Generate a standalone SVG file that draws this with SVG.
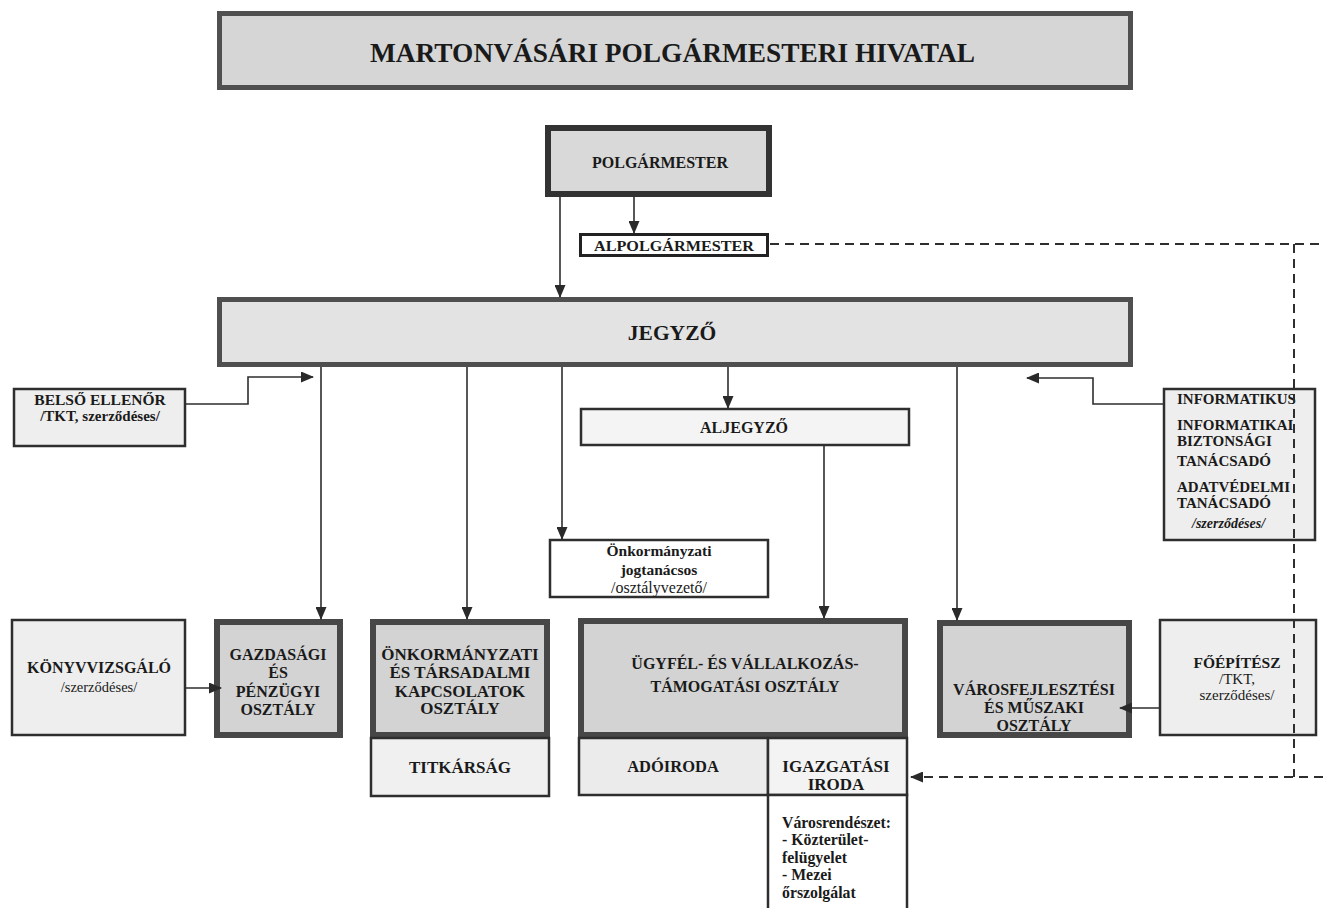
<svg xmlns="http://www.w3.org/2000/svg" width="1323" height="908" viewBox="0 0 1323 908">
<defs>
<marker id="ah" markerUnits="userSpaceOnUse" markerWidth="13" markerHeight="11" refX="12" refY="5.5" orient="auto">
<path d="M0,0 L13,5.5 L0,11 z" fill="#2a2a2a"/>
</marker>
<style>
text{font-family:"Liberation Serif","Times New Roman",serif;font-weight:bold;fill:#1a1a1a;text-anchor:middle}
.l{text-anchor:start}
.n{font-weight:normal}
.i{font-style:italic}
.thick{stroke:#474747;stroke-width:6}
.thin{stroke:#2e2e2e;stroke-width:2.5}
.dept{fill:#d3d3d3}
.lt{fill:#eeeeee}
.con{stroke:#2e2e2e;stroke-width:1.6;fill:none}
.dash{stroke:#2e2e2e;stroke-width:2;fill:none;stroke-dasharray:9,6}
</style>
</defs>
<rect width="1323" height="908" fill="#ffffff"/>

<g id="title">
<rect x="219.5" y="13.5" width="911" height="74" fill="#d6d6d6" stroke="#505050" stroke-width="5"/>
<text x="370" y="62" class="l" font-size="28" textLength="605" lengthAdjust="spacingAndGlyphs">MARTONVÁSÁRI POLGÁRMESTERI HIVATAL</text>
</g>

<g id="polgarmester">
<rect x="548" y="128" width="221" height="66" fill="#d9d9d9" stroke="#333" stroke-width="6"/>
<text x="660" y="168" font-size="16">POLGÁRMESTER</text>
</g>

<g id="alpolgarmester">
<rect x="580.5" y="234.5" width="187" height="21" fill="#ffffff" stroke="#222" stroke-width="3"/>
<text x="674" y="251" font-size="15" textLength="160" lengthAdjust="spacingAndGlyphs">ALPOLGÁRMESTER</text>
</g>

<g id="jegyzo">
<rect x="219.5" y="299.5" width="911" height="65" fill="#e3e3e3" stroke="#4f4f4f" stroke-width="5"/>
<text x="672" y="340" font-size="21.5">JEGYZŐ</text>
</g>

<g id="belso-ellenor">
<rect x="14" y="389" width="171" height="57" class="lt thin"/>
<text x="100" y="405" font-size="15.5">BELSŐ ELLENŐR</text>
<text x="100" y="421" font-size="15">/TKT, szerződéses/</text>
</g>

<g id="aljegyzo">
<rect x="581" y="409" width="328" height="36" fill="#f4f4f4" class="thin"/>
<text x="744" y="433" font-size="16">ALJEGYZŐ</text>
</g>

<g id="informatikus">
<rect x="1164" y="389" width="151" height="151" class="lt thin"/>
<text x="1177" y="404" class="l" font-size="15">INFORMATIKUS</text>
<text x="1177" y="430" class="l" font-size="15">INFORMATIKAI</text>
<text x="1177" y="446" class="l" font-size="15">BIZTONSÁGI</text>
<text x="1177" y="466" class="l" font-size="15">TANÁCSADÓ</text>
<text x="1177" y="492" class="l" font-size="15">ADATVÉDELMI</text>
<text x="1177" y="508" class="l" font-size="15">TANÁCSADÓ</text>
<text x="1192" y="528" class="l i" font-size="14">/szerződéses/</text>
</g>

<g id="jogtanacsos">
<rect x="550" y="540" width="218" height="57" fill="#ffffff" class="thin"/>
<text x="659" y="556" font-size="15.5">Önkormányzati</text>
<text x="659" y="575" font-size="15.5">jogtanácsos</text>
<text x="659" y="593" class="n" font-size="16">/osztályvezető/</text>
</g>

<g id="konyvvizsgalo">
<rect x="12" y="620" width="173" height="115" class="lt thin"/>
<text x="99" y="673" font-size="16">KÖNYVVIZSGÁLÓ</text>
<text x="99" y="692" class="n" font-size="14.5">/szerződéses/</text>
</g>

<g id="gazdasagi">
<rect x="217" y="622" width="123" height="113" class="dept thick"/>
<text x="278" y="660" font-size="16">GAZDASÁGI</text>
<text x="278" y="678" font-size="16">ÉS</text>
<text x="278" y="697" font-size="16">PÉNZÜGYI</text>
<text x="278" y="715" font-size="16">OSZTÁLY</text>
</g>

<g id="onkormanyzati">
<rect x="373" y="622" width="174" height="113" class="dept thick"/>
<text x="460" y="660" font-size="17">ÖNKORMÁNYZATI</text>
<text x="460" y="678" font-size="17">ÉS TÁRSADALMI</text>
<text x="460" y="697" font-size="17">KAPCSOLATOK</text>
<text x="460" y="714" font-size="17">OSZTÁLY</text>
</g>

<g id="titkarsag">
<rect x="371" y="738" width="178" height="58" fill="#f0f0f0" class="thin"/>
<text x="460" y="773" font-size="17">TITKÁRSÁG</text>
</g>

<g id="ugyfel">
<rect x="581" y="621" width="324" height="114" class="dept thick"/>
<text x="745" y="669" font-size="16">ÜGYFÉL- ÉS VÁLLALKOZÁS-</text>
<text x="745" y="692" font-size="16">TÁMOGATÁSI OSZTÁLY</text>
</g>

<g id="adoiroda">
<rect x="579" y="738" width="189" height="57" fill="#ebebeb" class="thin"/>
<text x="673" y="772" font-size="16.5">ADÓIRODA</text>
</g>

<g id="igazgatasi">
<rect x="768" y="738" width="139" height="57" fill="#f3f3f3" class="thin"/>
<text x="836" y="772" font-size="17">IGAZGATÁSI</text>
<text x="836" y="790" font-size="17">IRODA</text>
</g>

<g id="varosrendeszet">
<rect x="768" y="795" width="139" height="115" fill="#ffffff" class="thin"/>
<text x="782" y="828" class="l" font-size="15.8">Városrendészet:</text>
<text x="782" y="845" class="l" font-size="15.8">- Közterület-</text>
<text x="782" y="863" class="l" font-size="15.8">felügyelet</text>
<text x="782" y="880" class="l" font-size="15.8">- Mezei</text>
<text x="782" y="898" class="l" font-size="15.8">őrszolgálat</text>
</g>

<g id="varosfejlesztesi">
<rect x="940" y="623" width="189" height="112" class="dept thick"/>
<text x="1034" y="695" font-size="16">VÁROSFEJLESZTÉSI</text>
<text x="1034" y="713" font-size="16">ÉS MŰSZAKI</text>
<text x="1034" y="731" font-size="16">OSZTÁLY</text>
</g>

<g id="foepitesz">
<rect x="1160" y="620" width="156" height="115" class="lt thin"/>
<text x="1237" y="668" font-size="15.5">FŐÉPÍTÉSZ</text>
<text x="1237" y="684" class="n" font-size="15">/TKT,</text>
<text x="1237" y="700" class="n" font-size="15">szerződéses/</text>
</g>

<g id="connectors">
<line x1="634" y1="197" x2="634" y2="233" class="con" marker-end="url(#ah)"/>
<line x1="560" y1="197" x2="560" y2="297" class="con" marker-end="url(#ah)"/>
<line x1="321" y1="367" x2="321" y2="619" class="con" marker-end="url(#ah)"/>
<line x1="467" y1="367" x2="467" y2="619" class="con" marker-end="url(#ah)"/>
<line x1="562" y1="367" x2="562" y2="539" class="con" marker-end="url(#ah)"/>
<line x1="728" y1="367" x2="728" y2="408" class="con" marker-end="url(#ah)"/>
<line x1="957" y1="367" x2="957" y2="620" class="con" marker-end="url(#ah)"/>
<line x1="824" y1="446" x2="824" y2="618" class="con" marker-end="url(#ah)"/>
<polyline points="186,404 248,404 248,377 313,377" class="con" marker-end="url(#ah)"/>
<polyline points="1163,404 1093,404 1093,378 1027,378" class="con" marker-end="url(#ah)"/>
<line x1="186" y1="688" x2="221" y2="688" class="con" marker-end="url(#ah)"/>
<line x1="1159" y1="708" x2="1120" y2="708" class="con" marker-end="url(#ah)"/>
<line x1="770" y1="244" x2="1323" y2="244" class="dash"/>
<line x1="1294" y1="244" x2="1294" y2="777" class="dash"/>
<line x1="1323" y1="777" x2="911" y2="777" class="dash" marker-end="url(#ah)"/>
</g>
</svg>
